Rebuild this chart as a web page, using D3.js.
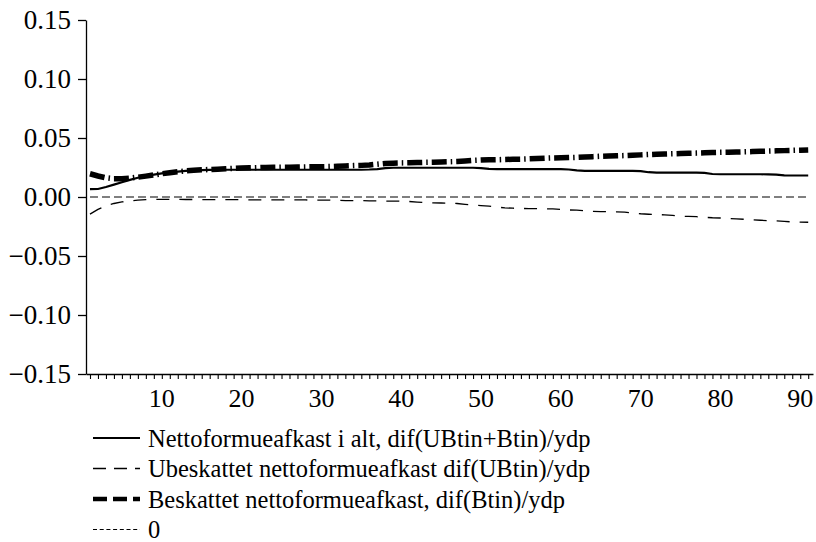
<!DOCTYPE html>
<html>
<head>
<meta charset="utf-8">
<script src="https://cdn.jsdelivr.net/npm/d3@7"></script>
<style>
  body { margin: 0; background: #fff; }
  svg { display: block; }
</style>
</head>
<body>
<svg id="chart" width="816" height="542"></svg>
<script>
const serif = "Liberation Serif";

// periods 1..91
const periods = d3.range(1, 92);

// Nettoformueafkast i alt, dif(UBtin+Btin)/ydp
const total = [
  0.0066, 0.0068, 0.0085, 0.0105, 0.0125, 0.0145, 0.0163, 0.0178, 0.0190, 0.0200,
  0.0208, 0.0215, 0.0221, 0.0225, 0.0228, 0.0230, 0.0231, 0.0231, 0.0231, 0.0231,
  0.0231, 0.0231, 0.0231, 0.0231, 0.0231, 0.0231, 0.0231, 0.0231, 0.0231, 0.0231,
  0.0231, 0.0231, 0.0231, 0.0231, 0.0231, 0.0233, 0.0237, 0.0245, 0.0248, 0.0248,
  0.0248, 0.0248, 0.0248, 0.0248, 0.0248, 0.0248, 0.0248, 0.0248, 0.0248, 0.0245,
  0.0238, 0.0237, 0.0237, 0.0237, 0.0237, 0.0237, 0.0237, 0.0237, 0.0237, 0.0236,
  0.0233, 0.0225, 0.0222, 0.0222, 0.0222, 0.0222, 0.0222, 0.0222, 0.0222, 0.0220,
  0.0210, 0.0206, 0.0206, 0.0206, 0.0206, 0.0206, 0.0206, 0.0204, 0.0195, 0.0193,
  0.0193, 0.0193, 0.0193, 0.0193, 0.0193, 0.0192, 0.0190, 0.0184, 0.0182, 0.0182,
  0.0182
];

// Ubeskattet nettoformueafkast dif(UBtin)/ydp
const untaxed = [
  -0.0145, -0.0105, -0.0075, -0.0055, -0.0042, -0.0033, -0.0027, -0.0023, -0.0021, -0.0020,
  -0.0020, -0.0020, -0.0021, -0.0021, -0.0022, -0.0022, -0.0022, -0.0023, -0.0023, -0.0023,
  -0.0024, -0.0024, -0.0024, -0.0024, -0.0025, -0.0025, -0.0025, -0.0025, -0.0026, -0.0026,
  -0.0026, -0.0028, -0.0030, -0.0031, -0.0031, -0.0032, -0.0033, -0.0034, -0.0035, -0.0036,
  -0.0038, -0.0043, -0.0048, -0.0050, -0.0051, -0.0052, -0.0055, -0.0062, -0.0069, -0.0073,
  -0.0078, -0.0086, -0.0092, -0.0095, -0.0097, -0.0098, -0.0099, -0.0100, -0.0101, -0.0106,
  -0.0110, -0.0112, -0.0117, -0.0122, -0.0124, -0.0125, -0.0126, -0.0128, -0.0135, -0.0142,
  -0.0146, -0.0149, -0.0151, -0.0155, -0.0162, -0.0165, -0.0167, -0.0172, -0.0176, -0.0178,
  -0.0182, -0.0186, -0.0189, -0.0193, -0.0197, -0.0200, -0.0203, -0.0207, -0.0211, -0.0213,
  -0.0214
];

// Beskattet nettoformueafkast, dif(Btin)/ydp
const taxed = [
  0.0197, 0.0178, 0.0163, 0.0155, 0.0155, 0.0160, 0.0168, 0.0177, 0.0187, 0.0197,
  0.0206, 0.0214, 0.0221, 0.0226, 0.0230, 0.0233, 0.0236, 0.0239, 0.0242, 0.0245,
  0.0247, 0.0249, 0.0251, 0.0252, 0.0253, 0.0253, 0.0254, 0.0255, 0.0256, 0.0257,
  0.0258, 0.0260, 0.0263, 0.0266, 0.0268, 0.0272, 0.0278, 0.0284, 0.0287, 0.0289,
  0.0290, 0.0292, 0.0294, 0.0295, 0.0297, 0.0299, 0.0301, 0.0305, 0.0310, 0.0313,
  0.0315, 0.0316, 0.0318, 0.0320, 0.0321, 0.0323, 0.0326, 0.0329, 0.0331, 0.0332,
  0.0334, 0.0336, 0.0339, 0.0342, 0.0345, 0.0347, 0.0349, 0.0351, 0.0354, 0.0357,
  0.0360, 0.0362, 0.0364, 0.0366, 0.0368, 0.0370, 0.0372, 0.0374, 0.0377, 0.0379,
  0.0380, 0.0381, 0.0383, 0.0385, 0.0387, 0.0389, 0.0391, 0.0393, 0.0395, 0.0397,
  0.0399
];

// 0 reference line
const zero = periods.map(() => 0);

const yTicks = [-0.15, -0.10, -0.05, 0.00, 0.05, 0.10, 0.15];
const xLabels = [10, 20, 30, 40, 50, 60, 70, 80, 90];

const legendLabels = [
  "Nettoformueafkast i alt, dif(UBtin+Btin)/ydp",
  "Ubeskattet nettoformueafkast dif(UBtin)/ydp",
  "Beskattet nettoformueafkast, dif(Btin)/ydp",
  "0"
];

const svg = d3.select("#chart");

const x = d3.scaleLinear().domain([0.5, 91.6]).range([86, 813]);
const y = d3.scaleLinear().domain([-0.15, 0.15]).range([374, 20]);

// axes: lines and ticks from d3, labels drawn below as plain text
const gy = svg.append("g").attr("transform", "translate(86,0)")
  .call(d3.axisLeft(y).tickValues(yTicks).tickFormat("").tickSize(8).tickSizeOuter(0));
gy.selectAll("line, path").attr("stroke", "#000").attr("stroke-width", 1.3);

const gx = svg.append("g").attr("transform", "translate(0,374)")
  .call(d3.axisBottom(x).tickValues(periods).tickFormat("").tickSize(5).tickSizeOuter(0));
gx.selectAll("line, path").attr("stroke", "#000").attr("stroke-width", 1.1);
gx.select("path").attr("stroke-width", 1.3);

svg.append("g").selectAll("text")
  .data(yTicks)
  .join("text")
  .attr("x", 71)
  .attr("y", d => y(d))
  .attr("dy", "0.34em")
  .attr("text-anchor", "end")
  .attr("font-family", serif)
  .attr("font-size", 27)
  .text(d3.format(".2f"));

svg.append("g").selectAll("text")
  .data(xLabels)
  .join("text")
  .attr("x", d => x(d))
  .attr("y", 407)
  .attr("text-anchor", "middle")
  .attr("font-family", serif)
  .attr("font-size", 26)
  .text(d => d);

const line = d3.line().x((d, i) => x(periods[i])).y(d => y(d));

const styles = [
  { data: total, width: 2.2, dash: null },
  { data: untaxed, width: 1.3, dash: "13,10" },
  { data: taxed, width: 5.5, dash: "15,4,1.5,4" },
  { data: zero, width: 1.2, dash: "8,4" }
];

// draw zero first, then the series
[styles[3], styles[1], styles[0], styles[2]].forEach(s => {
  svg.append("path")
    .datum(s.data)
    .attr("d", line)
    .attr("fill", "none")
    .attr("stroke", "#000")
    .attr("stroke-width", s.width)
    .attr("stroke-dasharray", s.dash);
});

// legend
const legendStyles = [
  { width: 2.2, dash: null },
  { width: 1.3, dash: "13,8" },
  { width: 4.5, dash: "14,6" },
  { width: 1.2, dash: "4,2.7" }
];
const legend = svg.append("g");
legendLabels.forEach((label, i) => {
  const cy = 438 + i * 30.5;
  legend.append("line")
    .attr("x1", 93).attr("x2", 140)
    .attr("y1", cy).attr("y2", cy)
    .attr("stroke", "#000")
    .attr("stroke-width", legendStyles[i].width)
    .attr("stroke-dasharray", legendStyles[i].dash);
  legend.append("text")
    .attr("x", 148).attr("y", cy)
    .attr("dy", "0.35em")
    .attr("font-family", serif)
    .attr("font-size", 24.5)
    .text(label);
});
</script>
</body>
</html>
